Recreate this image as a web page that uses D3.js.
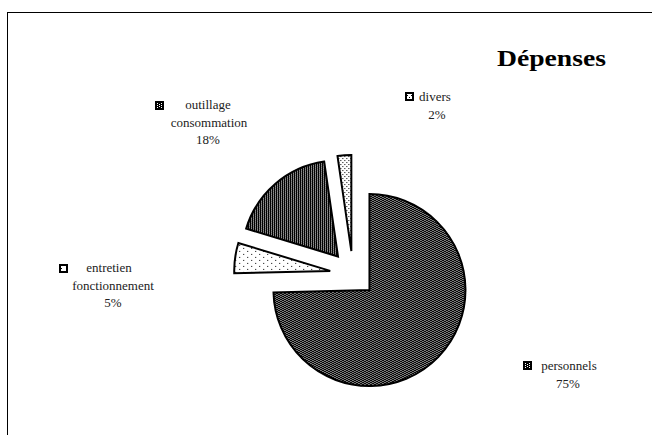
<!DOCTYPE html>
<html>
<head>
<meta charset="utf-8">
<script src="https://cdn.jsdelivr.net/npm/d3@7"></script>
<style>
  body { margin: 0; background: #fff; }
  svg { display: block; }
</style>
</head>
<body>
<svg id="chart" width="652" height="435"></svg>
<script>
// data
var categories = ["personnels", "entretien fonctionnement", "outillage consommation", "divers"]
var values = [74.6, 5.1, 18.0, 2.3]
var labelLines = [["personnels"], ["entretien", "fonctionnement"], ["outillage", "consommation"], ["divers"]]
var title = "Dépenses"

// layout (kept apart from the data)
var cx = 353, cy = 274, radius = 96, explode = 23
var fills = ["url(#dark)", "url(#light)", "url(#dark)", "url(#dots)"]
// label anchor: first baseline, key square x/y, x center of each line
var labelPos = [
  { y: 370, kx: 523, ky: 361, lineX: [569, 568] },
  { y: 272, kx: 59, ky: 264, lineX: [109, 113, 113] },
  { y: 109, kx: 155, ky: 101, lineX: [208, 209, 208] },
  { y: 101, kx: 405, ky: 92, lineX: [435, 437] }
]

var svg = d3.select("#chart")
var defs = svg.append("defs")

// dark checker/stripe pattern
var dark = defs.append("pattern").attr("id", "dark").attr("patternUnits", "userSpaceOnUse")
  .attr("width", 4).attr("height", 2)
dark.append("rect").attr("width", 4).attr("height", 2).attr("fill", "#fff")
dark.append("rect").attr("x", 0).attr("y", 0).attr("width", 1).attr("height", 2).attr("fill", "#000")
dark.append("rect").attr("x", 2).attr("y", 0).attr("width", 1).attr("height", 2).attr("fill", "#000")
dark.append("rect").attr("x", 1).attr("y", 0).attr("width", 1).attr("height", 1).attr("fill", "#000")
dark.append("rect").attr("x", 3).attr("y", 1).attr("width", 1).attr("height", 1).attr("fill", "#000")

// sparse dots
var light = defs.append("pattern").attr("id", "light").attr("patternUnits", "userSpaceOnUse")
  .attr("width", 8).attr("height", 6)
light.append("rect").attr("width", 8).attr("height", 6).attr("fill", "#fff")
light.append("rect").attr("x", 1).attr("y", 1).attr("width", 1).attr("height", 1).attr("fill", "#000")
light.append("rect").attr("x", 5).attr("y", 4).attr("width", 1).attr("height", 1).attr("fill", "#000")

// denser dots
var dots = defs.append("pattern").attr("id", "dots").attr("patternUnits", "userSpaceOnUse")
  .attr("width", 4).attr("height", 4)
dots.append("rect").attr("width", 4).attr("height", 4).attr("fill", "#fff")
dots.append("rect").attr("x", 1).attr("y", 1).attr("width", 1).attr("height", 1).attr("fill", "#000")
dots.append("rect").attr("x", 3).attr("y", 3).attr("width", 1).attr("height", 1).attr("fill", "#000")

// outer frame
svg.append("rect")
  .attr("x", 7.5).attr("y", 12.5)
  .attr("width", 660).attr("height", 440)
  .attr("fill", "none").attr("stroke", "#000").attr("stroke-width", 1)

var pie = d3.pie().sort(null).value(function(d) { return d })
var arcs = pie(values)
var arc = d3.arc().innerRadius(0).outerRadius(radius)
var total = d3.sum(values)

svg.append("g")
  .attr("transform", "translate(" + cx + "," + cy + ")")
  .selectAll("path")
  .data(arcs)
  .join("path")
  .attr("transform", function(d) {
    var mid = (d.startAngle + d.endAngle) / 2
    return "translate(" + (Math.sin(mid) * explode) + "," + (-Math.cos(mid) * explode) + ")"
  })
  .attr("d", arc)
  .attr("fill", function(d, i) { return fills[i] })
  .attr("stroke", "#000")
  .attr("stroke-width", 2)
  .attr("stroke-linejoin", "miter")

// data labels
var labels = svg.append("g")
  .style("font-family", "'Liberation Serif', 'Times New Roman', serif")
  .style("font-size", "13px")
  .attr("fill", "#222")

labelLines.forEach(function(lines, i) {
  var p = labelPos[i]
  labels.append("rect")
    .attr("x", p.kx + 1).attr("y", p.ky + 1)
    .attr("width", 7).attr("height", 7)
    .attr("fill", fills[i])
    .attr("stroke", "#000").attr("stroke-width", 2)
  var all = lines.concat([Math.round(values[i] / total * 100) + "%"])
  all.forEach(function(t, j) {
    labels.append("text")
      .attr("x", p.lineX[j])
      .attr("y", p.y + j * 17.5)
      .attr("text-anchor", "middle")
      .text(t)
  })
})

// title
svg.append("text")
  .attr("x", 497).attr("y", 66)
  .attr("textLength", 109)
  .attr("lengthAdjust", "spacingAndGlyphs")
  .style("font-family", "'Liberation Serif', 'Times New Roman', serif")
  .style("font-size", "24px")
  .style("font-weight", "bold")
  .text(title)
</script>
</body>
</html>
